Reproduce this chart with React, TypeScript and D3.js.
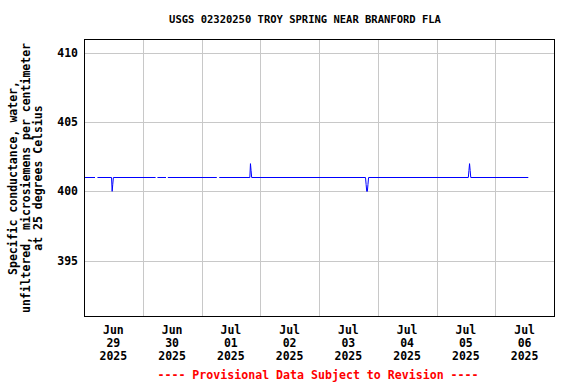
import React from "react";
import * as d3 from "d3";

const TITLE = "USGS 02320250 TROY SPRING NEAR BRANFORD FLA";
const FOOTER = "---- Provisional Data Subject to Revision ----";
const Y_LABEL_LINES = [
  "Specific conductance, water,",
  "unfiltered, microsiemens per centimeter",
  "at 25 degrees Celsius",
];
const Y_TICKS = [395, 400, 405, 410];
const X_DOMAIN = ["2025-06-29T00:00:00Z", "2025-07-07T00:00:00Z"];

// observation times and values (null = gap in record)
const obsTimes = [
  "2025-06-29T00:00", "2025-06-29T04:30", "2025-06-29T05:00",
  "2025-06-29T05:30", "2025-06-29T11:15", "2025-06-29T11:30", "2025-06-29T11:45", "2025-06-29T12:00", "2025-06-30T05:15", "2025-06-30T05:40",
  "2025-06-30T06:00", "2025-06-30T09:30", "2025-06-30T09:50",
  "2025-06-30T10:15", "2025-07-01T06:15", "2025-07-01T06:45",
  "2025-07-01T07:15", "2025-07-01T19:45", "2025-07-01T20:00", "2025-07-01T20:15", "2025-07-01T20:30",
  "2025-07-03T19:00", "2025-07-03T19:15", "2025-07-03T19:30", "2025-07-03T19:45", "2025-07-03T20:00", "2025-07-03T20:15",
  "2025-07-05T13:00", "2025-07-05T13:15", "2025-07-05T13:30", "2025-07-05T13:45", "2025-07-05T14:00",
  "2025-07-06T13:30",
];
const obsValues: (number | null)[] = [
  401, 401, null,
  401, 401, 400, 400.5, 401, 401, null,
  401, 401, null,
  401, 401, null,
  401, 401, 402, 401.5, 401,
  401, 400.5, 400, 400, 400.5, 401,
  401, 401.5, 402, 401.5, 401,
  401,
];

const W = 576, H = 384;
const M = { left: 84, right: 554, top: 39, bottom: 316 };
const FONT = "'DejaVu Sans Mono', monospace";

export default function App() {
  const x = d3.scaleUtc().domain(X_DOMAIN.map((d) => new Date(d))).range([M.left, M.right]);
  const y = d3.scaleLinear().domain([391, 411]).range([M.bottom, M.top]);
  const pts = obsTimes.map((t, i) => ({ t: new Date(t + ":00Z"), v: obsValues[i] }));
  const line = d3
    .line<{ t: Date; v: number | null }>()
    .defined((d) => d.v !== null)
    .x((d) => x(d.t))
    .y((d) => y(d.v as number));
  const days = d3.utcDay.range(x.domain()[0], x.domain()[1]);
  const midnights = days.slice(1);
  const fmtMon = d3.utcFormat("%b");
  const fmtDay = d3.utcFormat("%d");
  const fmtYr = d3.utcFormat("%Y");
  return (
    <svg width={W} height={H} style={{ position: "absolute", left: 0, top: 0, background: "#fff" }}>
      <rect x={0} y={0} width={W} height={H} fill="#fff" />
      {Y_TICKS.map((v) => (
        <line key={v} x1={M.left} x2={M.right} y1={Math.round(y(v)) + 0.5} y2={Math.round(y(v)) + 0.5} stroke="#c8c8c8" strokeWidth={1} />
      ))}
      {midnights.map((d) => (
        <line key={+d} x1={Math.round(x(d)) + 0.5} x2={Math.round(x(d)) + 0.5} y1={M.top} y2={M.bottom} stroke="#c8c8c8" strokeWidth={1} />
      ))}
      <path d={line(pts) || ""} fill="none" stroke="#0000ff" strokeWidth={1} />
      <rect x={M.left + 0.5} y={M.top + 0.5} width={M.right - M.left} height={M.bottom - M.top} fill="none" stroke="#000" strokeWidth={1} />
      <text x={305} y={23} fontFamily={FONT} fontWeight="bold" fontSize={10.5} textAnchor="middle" fill="#000">{TITLE}</text>
      {Y_TICKS.map((v) => (
        <text key={v} x={78} y={y(v) + 4} fontFamily={FONT} fontWeight="bold" fontSize={11.5} textAnchor="end" fill="#000">{v}</text>
      ))}
      {days.map((d) => {
        const cx = x(d3.utcHour.offset(d, 12));
        return (
          <g key={+d} fontFamily={FONT} fontWeight="bold" fontSize={11.5} textAnchor="middle" fill="#000">
            <text x={cx} y={334}>{fmtMon(d)}</text>
            <text x={cx} y={347}>{fmtDay(d)}</text>
            <text x={cx} y={360}>{fmtYr(d)}</text>
          </g>
        );
      })}
      {Y_LABEL_LINES.map((s, i) => (
        <text key={i} transform={`translate(${17 + i * 12.5},178) rotate(-90)`} fontFamily={FONT} fontWeight="bold" fontSize={11.5} textAnchor="middle" fill="#000">{s}</text>
      ))}
      <text x={318} y={379} fontFamily={FONT} fontWeight="bold" fontSize={11.6} textAnchor="middle" fill="#ff0000">{FOOTER}</text>
    </svg>
  );
}
